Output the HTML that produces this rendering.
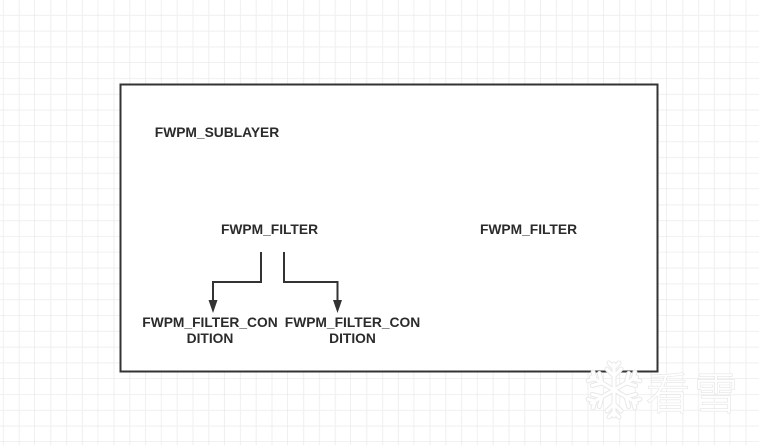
<!DOCTYPE html>
<html>
<head>
<meta charset="utf-8">
<style>
  html, body { margin: 0; padding: 0; background: #ffffff; }
  body { width: 759px; height: 445px; overflow: hidden; }
  svg { display: block; }
</style>
</head>
<body>
<svg width="759" height="445" viewBox="0 0 759 445" xmlns="http://www.w3.org/2000/svg">
  <defs>
    <pattern id="grid" patternUnits="userSpaceOnUse" x="-28.2" y="-0.5" width="63.2" height="63.2">
      <rect x="0" y="0" width="63.2" height="63.2" fill="#ffffff"/>
      <g stroke="#efefef" stroke-width="1">
        <line x1="15.8" y1="0" x2="15.8" y2="63.2"/>
        <line x1="31.6" y1="0" x2="31.6" y2="63.2"/>
        <line x1="47.4" y1="0" x2="47.4" y2="63.2"/>
        <line x1="0" y1="15.8" x2="63.2" y2="15.8"/>
        <line x1="0" y1="31.6" x2="63.2" y2="31.6"/>
        <line x1="0" y1="47.4" x2="63.2" y2="47.4"/>
      </g>
      <g stroke="#e3e3e3" stroke-width="1">
        <line x1="63.2" y1="0" x2="63.2" y2="63.2"/>
        <line x1="0" y1="63.2" x2="63.2" y2="63.2"/>
      </g>
    </pattern>
  </defs>

  <rect x="0" y="0" width="759" height="445" fill="url(#grid)"/>

  <!-- main box -->
  <rect x="120.5" y="84.5" width="537" height="287" fill="#ffffff" stroke="#333333" stroke-width="2"/>

  <g font-family="'Liberation Sans', Arial, sans-serif" font-weight="bold" font-size="13.8" fill="#2b2b2b" text-anchor="middle">
    <text x="217" y="137">FWPM_SUBLAYER</text>
    <text x="269.5" y="234">FWPM_FILTER</text>
    <text x="528.5" y="234">FWPM_FILTER</text>
    <text x="210" y="327">FWPM_FILTER_CON</text>
    <text x="210" y="343">DITION</text>
    <text x="352.5" y="327">FWPM_FILTER_CON</text>
    <text x="352.5" y="343">DITION</text>
  </g>

  <!-- connectors -->
  <g stroke="#333333" stroke-width="2" fill="none">
    <path d="M261 252 V282 H213 V302"/>
    <path d="M284 252 V282 H337.5 V302"/>
  </g>
  <g fill="#333333">
    <polygon points="208.5,300 217.5,300 213,313"/>
    <polygon points="333,300 342,300 337.5,313"/>
  </g>

  <!-- watermark -->
  <g transform="translate(614,390)" stroke-linecap="round">
    <g stroke="#e8e8e8" stroke-width="5" fill="none">
      <g id="arm">
        <line x1="0" y1="0" x2="0" y2="-26"/>
        <polyline points="-7,-21 0,-14 7,-21"/>
        <polyline points="-5,-27 0,-22 5,-27"/>
      </g>
      <use href="#arm" transform="rotate(60)"/>
      <use href="#arm" transform="rotate(120)"/>
      <use href="#arm" transform="rotate(180)"/>
      <use href="#arm" transform="rotate(240)"/>
      <use href="#arm" transform="rotate(300)"/>
    </g>
    <g stroke="#ffffff" stroke-width="3" fill="none">
      <g id="arm2">
        <line x1="0" y1="0" x2="0" y2="-26"/>
        <polyline points="-7,-21 0,-14 7,-21"/>
        <polyline points="-5,-27 0,-22 5,-27"/>
      </g>
      <use href="#arm2" transform="rotate(60)"/>
      <use href="#arm2" transform="rotate(120)"/>
      <use href="#arm2" transform="rotate(180)"/>
      <use href="#arm2" transform="rotate(240)"/>
      <use href="#arm2" transform="rotate(300)"/>
    </g>
  </g>
  <text x="646" y="409" font-family="'Liberation Sans', 'Noto Sans CJK SC', sans-serif" font-size="44" font-weight="300" fill="#ffffff" stroke="#e4e4e4" stroke-width="1.2" paint-order="stroke" letter-spacing="4">看雪</text>
</svg>
</body>
</html>
